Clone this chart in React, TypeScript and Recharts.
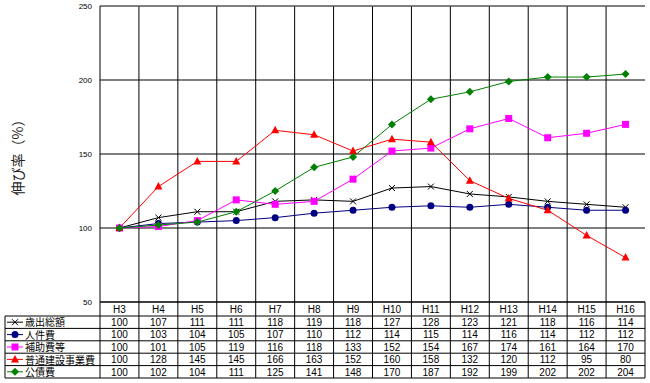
import { LineChart, Line, XAxis, YAxis, CartesianGrid, ReferenceLine } from "recharts";

const categories = ["H3", "H4", "H5", "H6", "H7", "H8", "H9", "H10", "H11", "H12", "H13", "H14", "H15", "H16"];
const totalExp = [100, 107, 111, 111, 118, 119, 118, 127, 128, 123, 121, 118, 116, 114];
const personnel = [100, 103, 104, 105, 107, 110, 112, 114, 115, 114, 116, 114, 112, 112];
const subsidies = [100, 101, 105, 119, 116, 118, 133, 152, 154, 167, 174, 161, 164, 170];
const construction = [100, 128, 145, 145, 166, 163, 152, 160, 158, 132, 120, 112, 95, 80];
const debt = [100, 102, 104, 111, 125, 141, 148, 170, 187, 192, 199, 202, 202, 204];
const yTicks = [50, 100, 150, 200, 250];

const series = [
    { key: "total", name: "歳出総額", color: "#000000", marker: "x", values: totalExp },
    { key: "personnel", name: "人件費", color: "#000080", marker: "circle", values: personnel },
    { key: "subsidies", name: "補助費等", color: "#FF00FF", marker: "square", values: subsidies },
    { key: "construction", name: "普通建設事業費", color: "#FF0000", marker: "triangle", values: construction },
    { key: "debt", name: "公債費", color: "#008000", marker: "diamond", values: debt },
];

const data = categories.map((c, i) => {
    const row: Record<string, string | number> = { cat: c };
    series.forEach(s => { row[s.key] = s.values[i]; });
    return row;
});

const W = 650;
const H = 383;
const LEFT = 100;
const RIGHT = 5;
const TOP = 6;
const BOTTOM = 81;
const BAND = (W - LEFT - RIGHT) / categories.length;
const HEADER_H = 14;
const ROW_H = 12.4;
const TABLE_LEFT = 5;
const numFont = "'Liberation Sans', Arial, sans-serif";
const jpFont = "'Noto Sans CJK JP', sans-serif";

const Marker = ({ type, cx, cy, color }: { type: string; cx: number; cy: number; color: string }) => {
    if (type === "x") {
        return (
            <g stroke={color} strokeWidth={1}>
                <line x1={cx - 3} y1={cy - 3} x2={cx + 3} y2={cy + 3} />
                <line x1={cx - 3} y1={cy + 3} x2={cx + 3} y2={cy - 3} />
            </g>
        );
    }
    if (type === "circle") return <circle cx={cx} cy={cy} r={3.5} fill={color} />;
    if (type === "square") return <rect x={cx - 3.5} y={cy - 3.5} width={7} height={7} fill={color} />;
    if (type === "triangle") return <polygon points={`${cx},${cy - 4.5} ${cx + 4},${cy + 3} ${cx - 4},${cy + 3}`} fill={color} />;
    return <polygon points={`${cx},${cy - 4} ${cx + 4},${cy} ${cx},${cy + 4} ${cx - 4},${cy}`} fill={color} />;
};

const TableTick = (props: any) => {
    const { x, y, payload, index } = props;
    const left = x - BAND / 2;
    const right = x + BAND / 2;
    const bottom = y + HEADER_H + ROW_H * series.length;
    const rowTops = series.map((_, i) => y + HEADER_H + ROW_H * i);
    return (
        <g>
            <line x1={left} y1={y} x2={left} y2={bottom} stroke="#000" />
            {index === categories.length - 1 && <line x1={right} y1={y} x2={right} y2={bottom} stroke="#000" />}
            {[...rowTops, bottom].map((ry, i) => (
                <line key={i} x1={left} y1={ry} x2={right} y2={ry} stroke="#000" />
            ))}
            <text x={x} y={y + 11} textAnchor="middle" fontSize={10} fontFamily={numFont} fill="#000">{payload.value}</text>
            {series.map((s, i) => (
                <text key={s.key} x={x} y={rowTops[i] + 10} textAnchor="middle" fontSize={10} fontFamily={numFont} fill="#000">
                    {s.values[index]}
                </text>
            ))}
            {index === 0 && (
                <g>
                    <line x1={TABLE_LEFT} y1={y + HEADER_H} x2={TABLE_LEFT} y2={bottom} stroke="#000" />
                    {[...rowTops, bottom].map((ry, i) => (
                        <line key={i} x1={TABLE_LEFT} y1={ry} x2={left} y2={ry} stroke="#000" />
                    ))}
                    {series.map((s, i) => {
                        const cy = rowTops[i] + ROW_H / 2;
                        return (
                            <g key={s.key}>
                                <line x1={7} y1={cy} x2={23} y2={cy} stroke={s.color} />
                                <Marker type={s.marker} cx={15} cy={cy} color={s.color} />
                                <text x={25} y={rowTops[i] + 10.3} fontSize={10} fontFamily={jpFont} fill="#000">{s.name}</text>
                            </g>
                        );
                    })}
                </g>
            )}
        </g>
    );
};

export default function App() {
    return (
        <div style={{ width: W, height: H, background: "#fff" }}>
            <style>{`body{margin:0;}`}</style>
            <LineChart width={W} height={H} data={data} margin={{ top: TOP, right: RIGHT, left: 0, bottom: 0 }}>
                <CartesianGrid vertical={false} stroke="#000" />
                {categories.slice(1).map(c => (
                    <ReferenceLine key={c} x={c} position="start" stroke="#000" />
                ))}
                <ReferenceLine x="H16" position="end" stroke="#808080" />
                <ReferenceLine y={250} stroke="#808080" />
                <XAxis
                    dataKey="cat"
                    scale="band"
                    axisLine={{ stroke: "#000" }}
                    tickLine={false}
                    tickSize={0}
                    tickMargin={0}
                    interval={0}
                    tick={<TableTick />}
                    height={BOTTOM}
                />
                <YAxis
                    width={LEFT}
                    domain={[50, 250]}
                    ticks={yTicks}
                    axisLine={{ stroke: "#000" }}
                    tickLine={false}
                    tick={{ fontSize: 8, fill: "#000", fontFamily: numFont }}
                    label={{ value: "伸び率（%）", angle: -90, position: "insideLeft", offset: 18, style: { fontSize: 14, fill: "#222", fontFamily: jpFont, textAnchor: "middle" } }}
                />
                {series.map(s => (
                    <Line
                        key={s.key}
                        dataKey={s.key}
                        name={s.name}
                        stroke={s.color}
                        strokeWidth={1}
                        isAnimationActive={false}
                        dot={(p: any) => <Marker key={`${s.key}-${p.index}`} type={s.marker} cx={p.cx} cy={p.cy} color={s.color} />}
                        activeDot={false}
                    />
                ))}
            </LineChart>
        </div>
    );
}
